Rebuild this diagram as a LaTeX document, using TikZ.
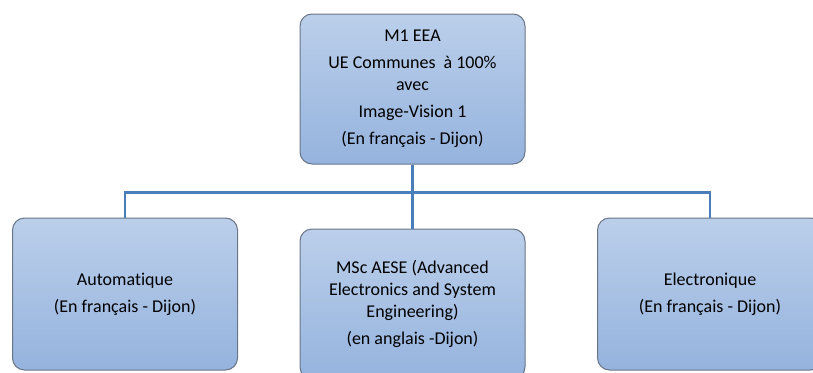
\documentclass[tikz,border=0pt]{standalone}
\usepackage{fontspec}
\setmainfont{Carlito}[Ligatures=NoCommon]
\usepackage{tikz}
\usetikzlibrary{positioning}

\definecolor{boxtop}{RGB}{187,207,234}
\definecolor{boxbottom}{RGB}{149,179,222}
\definecolor{boxline}{RGB}{105,117,135}
\definecolor{linkblue}{RGB}{74,126,187}

\begin{document}
\begin{tikzpicture}[%
    x=1pt,
    y=-1pt,
    box/.style={draw=boxline, line width=1pt, rounded corners=12pt,
        top color=boxtop, bottom color=boxbottom,
        minimum width=225pt, align=center, inner sep=0pt,
        font=\fontsize{18}{22}\selectfont},
    link/.style={draw=linkblue, line width=2.5pt}
    ]
    \useasboundingbox (0,0) rectangle (813,372);

    \node[box, minimum height=150pt] (top) at (412.5,89)
        {M1 EEA\\[5pt] UE Communes\ \ à 100\%\\ avec\\[5pt]
         Image-Vision 1\\[5pt] (En français - Dijon)};
    \node[box, minimum height=152pt] (auto) at (125,294)
        {Automatique\\[5pt] (En français - Dijon)};
    \node[box, minimum height=150pt] (msc) at (412.5,304)
        {MSc AESE (Advanced\\ Electronics and System\\ Engineering)\\[5pt]
         (en anglais -Dijon)};
    \node[box, minimum height=152pt] (elec) at (710,294)
        {Electronique\\[5pt] (En français - Dijon)};

    \draw[link] (top.south) -- ++(0,28) -| (auto.north);
    \draw[link] (top.south) -- ++(0,28) -| (elec.north);
    \draw[link] (top.south) -- (msc.north);

\end{tikzpicture}
\end{document}
